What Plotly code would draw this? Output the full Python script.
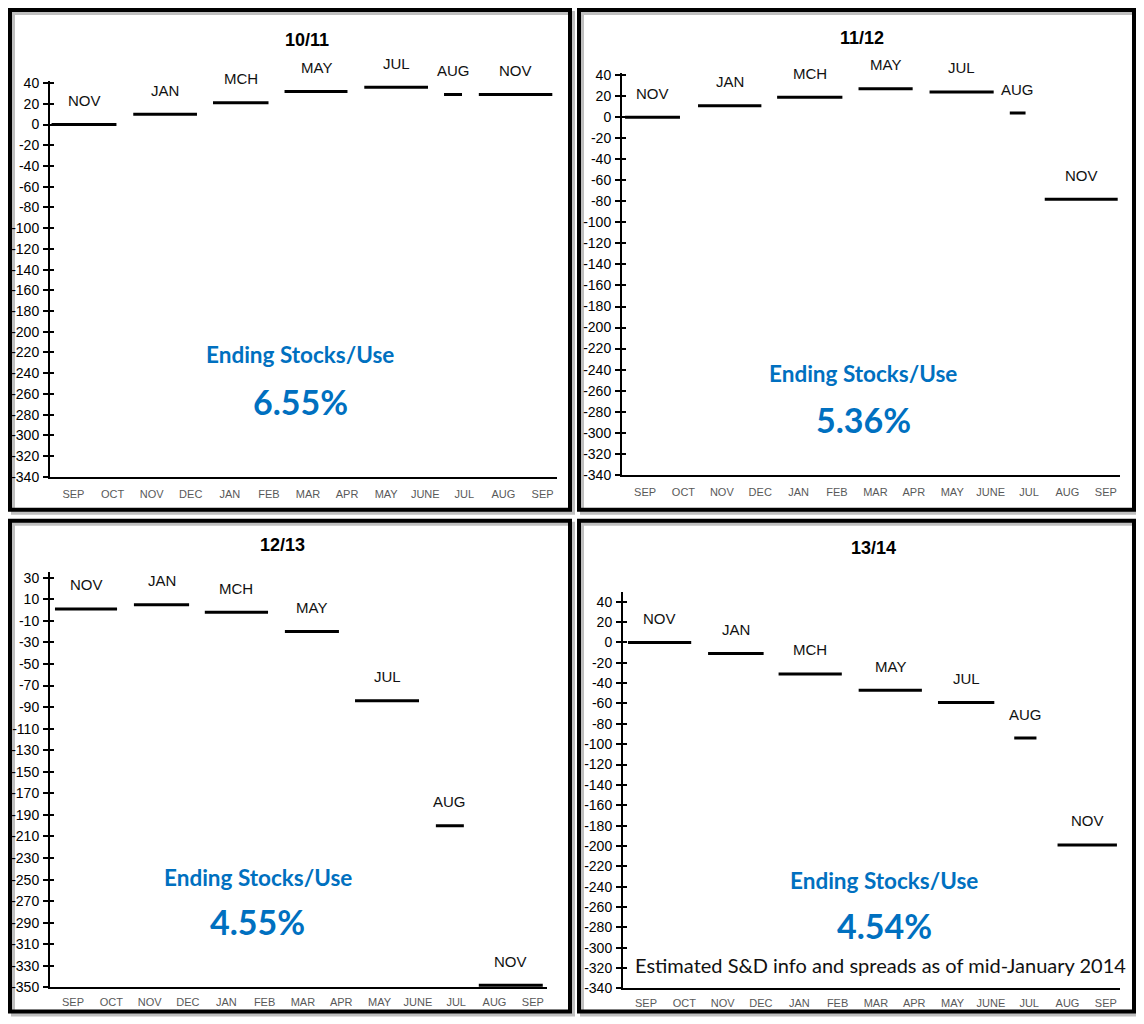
import plotly.graph_objects as go

# page offsets measured against the screenshot: 8px body margin horizontally,
# and a small vertical offset/scale seen in earlier renders
FW, FH = 1128, 1024
X_OFF = 8
Y_OFF, Y_SCALE = 13.9, 0.987
BLUE = "#0070C0"
NARROW = "Liberation Sans Narrow, Arial Narrow, Liberation Sans, Arial, sans-serif"
CALIBRI = "Lato, Carlito, Calibri, Open Sans, sans-serif"

MONTHS = ["SEP", "OCT", "NOV", "DEC", "JAN", "FEB", "MAR", "APR", "MAY", "JUNE", "JUL", "AUG", "SEP"]
CONTRACTS = ["NOV", "JAN", "MCH", "MAY", "JUL", "AUG", "NOV"]

# spread values per crop year (cents)
VALUES_1011 = [0, 10, 21, 32, 36, 29, 29]
VALUES_1112 = [0, 11, 19, 27, 24, 4, -78]
VALUES_1213 = [1, 5, -2, -20, -84, -200, -348]
VALUES_1314 = [0, -11, -31, -47, -59, -94, -199]

# segment spans in month index (0 = SEP ... 12 = SEP)
START_1011 = [-0.56, 1.53, 3.57, 5.40, 7.44, 9.48, 10.37]
END_1011 = [1.10, 3.16, 4.99, 7.01, 9.07, 9.94, 12.25]
START_1112 = [-0.52, 1.38, 3.44, 5.56, 7.41, 9.50, 10.41]
END_1112 = [0.91, 3.03, 5.14, 6.97, 9.08, 9.91, 12.31]
START_1213 = [-0.47, 1.59, 3.44, 5.53, 7.36, 9.47, 10.59]
END_1213 = [1.15, 3.03, 5.09, 6.94, 9.03, 10.20, 12.26]
START_1314 = [-0.47, 1.62, 3.46, 5.55, 7.62, 9.61, 10.74]
END_1314 = [1.18, 3.07, 5.11, 7.20, 9.09, 10.19, 12.29]

STOCKS_USE = ["6.55%", "5.36%", "4.55%", "4.54%"]
TITLES = ["10/11", "11/12", "12/13", "13/14"]
FOOTNOTE = "Estimated S&D info and spreads as of mid-January 2014"


def px_x(x):
    return (x - X_OFF) / FW


def px_y(y):
    return 1 - ((y - Y_OFF) / Y_SCALE) / FH


def paper_text(x, y, text, font):
    return dict(x=px_x(x), y=px_y(y), xref="paper", yref="paper", text=text,
                showarrow=False, xanchor="center", yanchor="middle", font=font)


panels = [
    dict(title=TITLES[0], vals=VALUES_1011, start=START_1011, end=END_1011, yr=[-340, 42], y0=40,
         dom=(50, 557, 81, 477), frame=(10, 570, 10, 510), title_xy=(307, 40),
         esu_xy=(300, 355, 402), standoff=6),
    dict(title=TITLES[1], vals=VALUES_1112, start=START_1112, end=END_1112, yr=[-340, 42], y0=40,
         dom=(622, 1120, 73, 475), frame=(579, 1134, 10, 510), title_xy=(862, 38),
         esu_xy=(863, 374, 420), standoff=6),
    dict(title=TITLES[2], vals=VALUES_1213, start=START_1213, end=END_1213, yr=[-350, 35], y0=30,
         dom=(50, 547, 572.6, 988), frame=(10, 570, 521, 1012), title_xy=(282, 545),
         esu_xy=(258, 878, 922), standoff=3),
    dict(title=TITLES[3], vals=VALUES_1314, start=START_1314, end=END_1314, yr=[-340, 50], y0=40,
         dom=(623, 1120, 591.8, 989), frame=(579, 1134, 521, 1012), title_xy=(873, 548),
         esu_xy=(884, 881, 926), standoff=3),
]

fig = go.Figure()
layout = {}
annotations = []
shapes = []

for i, p in enumerate(panels):
    n = i + 1
    xa = "x" if n == 1 else f"x{n}"
    ya = "y" if n == 1 else f"y{n}"
    ya_over = f"y{n + 4}"
    x0, x1, yt, yb = p["dom"]

    for s, e, v, lab in zip(p["start"], p["end"], p["vals"], CONTRACTS):
        fig.add_trace(go.Scatter(
            x=[s, e], y=[v, v], mode="lines", xaxis=xa, yaxis=ya,
            line=dict(color="black", width=3), showlegend=False, hoverinfo="skip",
        ))
        annotations.append(dict(
            x=(s + e) / 2, y=v, xref=xa, yref=ya, text=lab, showarrow=False,
            xanchor="center", yanchor="middle",
            yshift=24, font=dict(family=NARROW, size=15, color="#111111"),
        ))
    # empty trace so the overlay axis (inside tick marks) gets drawn
    fig.add_trace(go.Scatter(x=[None], y=[None], xaxis=xa, yaxis=ya_over,
                             showlegend=False, hoverinfo="skip"))

    tickvals = list(range(p["y0"], p["yr"][0] - 1, -20))
    ticktext = [str(t) for t in tickvals]  # plain hyphen minus, as in the source
    layout["xaxis" if n == 1 else f"xaxis{n}"] = dict(
        domain=[px_x(x0), px_x(x1)], anchor=ya, range=[-0.6, 12.37],
        tickvals=list(range(13)), ticktext=MONTHS, showgrid=False, zeroline=False,
        showline=True, linecolor="black", linewidth=2, ticks="",
        tickfont=dict(family=NARROW, size=11, color="#595959"), ticklabelstandoff=p["standoff"],
    )
    layout["yaxis" if n == 1 else f"yaxis{n}"] = dict(
        domain=[px_y(yb), px_y(yt)], anchor=xa, range=p["yr"],
        tickvals=tickvals, ticktext=ticktext,
        showgrid=False, zeroline=False, showline=True, linecolor="black", linewidth=2,
        ticks="outside", ticklen=5, tickwidth=1.5, tickcolor="black",
        tickfont=dict(family=NARROW, size=14, color="black"), ticklabelstandoff=1,
    )
    layout[f"yaxis{n + 4}"] = dict(
        domain=[px_y(yb), px_y(yt)], anchor=xa, overlaying=ya, range=p["yr"],
        tickvals=tickvals, showticklabels=False, showgrid=False, zeroline=False,
        ticks="inside", ticklen=4, tickwidth=1.5, tickcolor="black", side="left",
    )

    tx, ty = p["title_xy"]
    annotations.append(paper_text(tx, ty, f"<b>{p['title']}</b>",
                                  dict(family="Liberation Sans, Arial, sans-serif", size=18, color="black")))
    ex, ey1, ey2 = p["esu_xy"]
    annotations.append(paper_text(ex, ey1, "<b>Ending Stocks/Use</b>",
                                  dict(family=CALIBRI, size=22.5, color=BLUE)))
    annotations.append(paper_text(ex, ey2, f"<b>{STOCKS_USE[i]}</b>",
                                  dict(family=CALIBRI, size=34, color=BLUE)))

    fx0, fx1, fy0, fy1 = p["frame"]
    shapes.append(dict(
        type="rect", xref="paper", yref="paper", layer="below",
        x0=px_x(fx0 + 3), x1=px_x(fx1 + 3), y0=px_y(fy1 + 3), y1=px_y(fy0 + 3),
        line=dict(color="rgba(0,0,0,0.25)", width=4),
    ))
    shapes.append(dict(
        type="rect", xref="paper", yref="paper",
        x0=px_x(fx0), x1=px_x(fx1), y0=px_y(fy1), y1=px_y(fy0),
        line=dict(color="black", width=4),
    ))

annotations.append(paper_text(880, 966, FOOTNOTE, dict(family=CALIBRI, size=20, color="#111111")))

fig.update_layout(
    width=FW, height=FH, margin=dict(l=0, r=0, t=0, b=0),
    paper_bgcolor="white", plot_bgcolor="rgba(0,0,0,0)",
    annotations=annotations, shapes=shapes, showlegend=False,
    **layout,
)

fig.write_html("out.html")
